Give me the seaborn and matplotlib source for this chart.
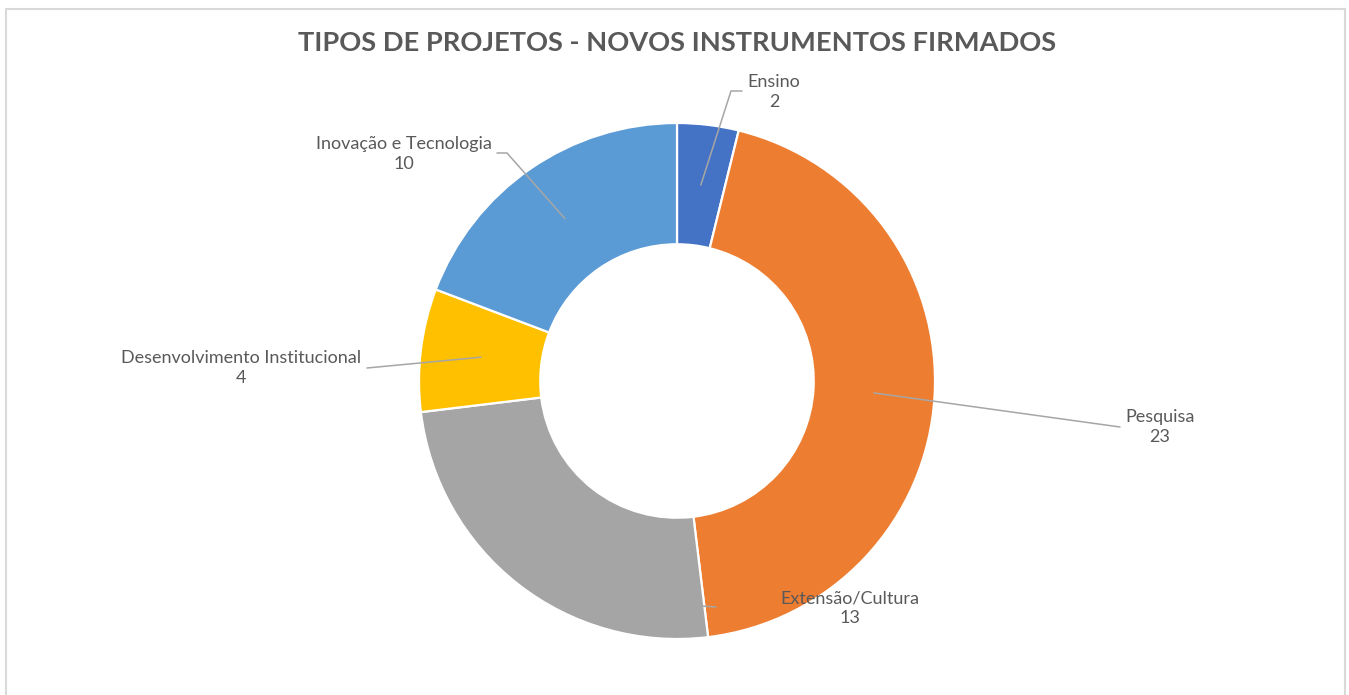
import seaborn as sns
import matplotlib.pyplot as plt
from matplotlib.patches import Rectangle
import numpy as np

categories = ['Ensino', 'Pesquisa', 'Extensão/Cultura', 'Desenvolvimento Institucional', 'Inovação e Tecnologia']
values = [2, 23, 13, 4, 10]
colors = ['#4472C4', '#ED7D31', '#A5A5A5', '#FFC000', '#5B9BD5']
title = 'TIPOS DE PROJETOS - NOVOS INSTRUMENTOS FIRMADOS'

sns.set_theme(style='white')
plt.rcParams['font.family'] = ['Lato', 'DejaVu Sans']

W, H = 1349, 695
fig = plt.figure(figsize=(W / 100, H / 100), dpi=100)
ax = fig.add_axes([0, 0, 1, 1])

# pie center and radius in pixels
cx, cy, R = 677, 381, 258
wedges, _ = ax.pie(values, colors=colors, startangle=90, counterclock=False, radius=1,
                   wedgeprops=dict(width=0.47, edgecolor='white', linewidth=1.6))
ax.set_aspect('auto')
ax.set_xlim(-cx / R, (W - cx) / R)
ax.set_ylim(-(H - cy) / R, cy / R)
ax.axis('off')


def px(x, y):
    return (x - cx) / R, (cy - y) / R


# label positions (pixels) and leader lines
label_pos = [(774, 92), (1160, 427), (850, 608), (241, 368), (404, 154)]
leader_end = [[(731, 91), (742, 91)], [(1120, 427)], [(716, 607)], [(367, 368)], [(507, 153), (497, 153)]]

total = sum(values)
cum = 0
for i, (cat, v) in enumerate(zip(categories, values)):
    mid = (cum + v / 2) / total * 2 * np.pi
    cum += v
    r = 0.765
    sx, sy = r * np.sin(mid), r * np.cos(mid)
    if cat == 'Extensão/Cultura':
        sx, sy = px(702, 606)
    pts = [(sx, sy)] + [px(*p) for p in leader_end[i]]
    ax.plot([p[0] for p in pts], [p[1] for p in pts], color='#A6A6A6', lw=1.1, zorder=3)
    tx, ty = px(*label_pos[i])
    ax.text(tx, ty, f'{cat}\n{v}', ha='center', va='center', multialignment='center',
            fontsize=13, color='#595959', linespacing=1.3, zorder=4)

fig.text(677 / W, 1 - 43 / H, title, ha='center', va='center', fontsize=19.6,
         fontweight='bold', color='#595959')

fig.patches.append(Rectangle((6 / W, -0.02), 1339 / W, 1 - 9 / H + 0.02, transform=fig.transFigure,
                             fill=False, edgecolor='#D9D9D9', linewidth=1.5))

fig.savefig('out.png', dpi=100)
